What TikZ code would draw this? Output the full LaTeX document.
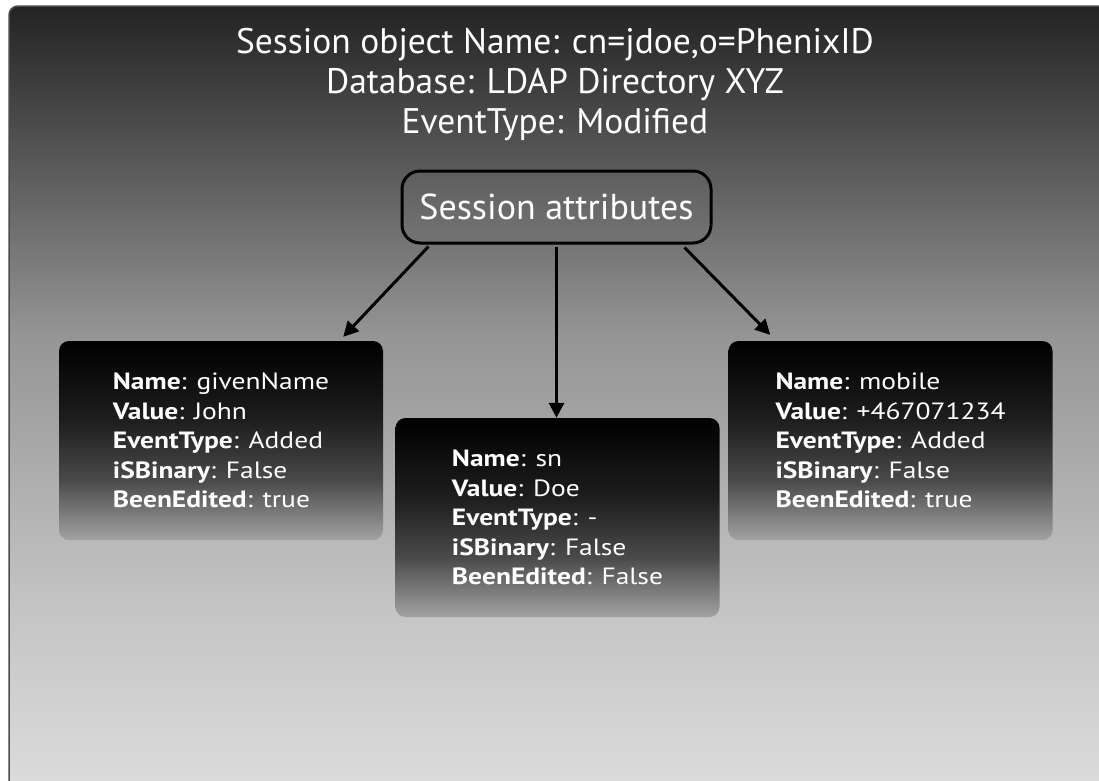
\documentclass[tikz,border=0pt]{standalone}
\usepackage{fontspec}
\setmainfont{PT Sans}
\newfontfamily\boxfont[FakeStretch=1.17]{PT Sans}
\usetikzlibrary{arrows.meta,calc}
\definecolor{bga}{HTML}{232323}
\definecolor{bgb}{HTML}{666666}
\definecolor{bgc}{HTML}{959595}
\definecolor{bgd}{HTML}{C4C4C4}
\definecolor{bge}{HTML}{DCDCDC}
\definecolor{attrtop}{HTML}{5E5E5E}
\definecolor{attrbot}{HTML}{747474}
\definecolor{bxa}{HTML}{000000}
\definecolor{bxb}{HTML}{1E1E1E}
\definecolor{bxc}{HTML}{4A4A4A}
\definecolor{bxd}{HTML}{A2A2A2}
\pgfdeclareverticalshading{boxshade}{100bp}{color(0bp)=(bxd); color(25bp)=(bxd); color(40bp)=(bxc); color(55bp)=(bxb); color(75bp)=(bxa); color(100bp)=(bxa)}
\pgfdeclareverticalshading{bgshade}{100bp}{color(0bp)=(bge); color(25bp)=(bge); color(36.7bp)=(bgd); color(54bp)=(bgc); color(62.5bp)=(bgb); color(75bp)=(bga); color(100bp)=(bga)}
\tikzset{
  title/.style={text=white, font=\fontsize{35.5}{40}\selectfont, align=center},
  attrbox/.style={draw=black, line width=3pt, rounded corners=18pt, top color=attrtop, bottom color=attrbot,
     text=white, font=\fontsize{36}{40}\selectfont, minimum width=309pt, minimum height=72pt, inner sep=0pt},
  databox/.style={shading=boxshade, rounded corners=10pt, text=white, align=left,
     font=\boxfont\fontsize{23.5}{29.5}\selectfont, minimum width=324pt, minimum height=199pt, inner sep=0pt},
  arr/.style={line width=3pt, -{Triangle[length=15pt,width=15pt]}}
}
\begin{document}
\begin{tikzpicture}[x=1pt,y=-1pt]
\useasboundingbox (0,0) rectangle (1099,780);
\fill[white] (0,0) rectangle (1099,780);
\shade[shading=bgshade, draw=black!70, line width=1.5pt, rounded corners=9pt]
  (9,6) rectangle (1120,790);
\node[title] (t) at (555,84) {Session object Name: cn=jdoe,o=PhenixID\\Database: LDAP Directory XYZ\\EventType: Modified};
\node[attrbox] (attr) at (556.5,207) {Session attributes};
\node[databox] (l) at (221,440.5) {\textbf{Name}: givenName\\\textbf{Value}: John\\\textbf{EventType}: Added\\\textbf{iSBinary}: False\\\textbf{BeenEdited}: true};
\node[databox] (m) at (557.5,517.5) {\textbf{Name}: sn\\\textbf{Value}: Doe\\\textbf{EventType}: -\\\textbf{iSBinary}: False\\\textbf{BeenEdited}: False};
\node[databox] (r) at (890.5,440.5) {\textbf{Name}: mobile\\\textbf{Value}: +467071234\\\textbf{EventType}: Added\\\textbf{iSBinary}: False\\\textbf{BeenEdited}: true};
\draw[arr] ([xshift=28pt,yshift=-2pt]attr.south west) -- ([xshift=-40pt,yshift=4pt]l.north east);
\draw[arr] ([yshift=-2pt]attr.south) -- (attr.south |- m.north);
\draw[arr] ([xshift=-28pt,yshift=-3pt]attr.south east) -- ([xshift=42pt,yshift=6pt]r.north west);
\end{tikzpicture}
\end{document}
